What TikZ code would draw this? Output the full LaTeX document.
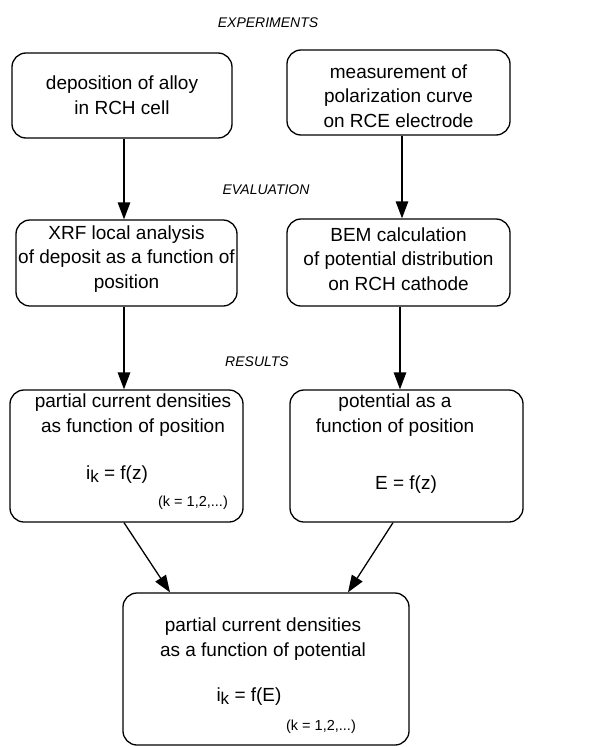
\documentclass[tikz,border=0pt]{standalone}
\usepackage{fontspec}
\setmainfont{Liberation Sans}
\usetikzlibrary{arrows.meta}
\tikzset{
 box/.style={draw, line width=1.3pt, rounded corners=14pt, inner sep=0pt, align=center, font=\fontsize{19}{25}\selectfont},
 lbl/.style={font=\fontsize{14}{16}\selectfont\itshape, inner sep=0pt},
 txt/.style={align=center, font=\fontsize{19}{24.5}\selectfont, inner sep=0pt},
 small/.style={font=\fontsize{14.5}{16}\selectfont, inner sep=0pt},
 arr/.style={line width=1.3pt, -{Triangle[length=17pt,width=12.5pt]}},
}
\newcommand{\ik}{i\raisebox{-3pt}{\fontsize{17}{17}\selectfont k}}
\begin{document}
\begin{tikzpicture}[x=1pt,y=-1pt]
\useasboundingbox (0,0) rectangle (597,747);
% labels
\node[lbl] (l1) at (268,23) {EXPERIMENTS};
\node[lbl] (l2) at (266,190) {EVALUATION};
\node[lbl] (l3) at (257,362) {RESULTS};
% boxes
\node[box, minimum width=220pt, minimum height=85pt] (A) at (122,95.5) {deposition of alloy\\in RCH cell};
\node[box, minimum width=223pt, minimum height=85pt] (B) at (398.5,92.5) {};
\node[txt] (Bt) at (398.5,96) {measurement of\\polarization curve\\on RCE electrode};
\node[box, minimum width=221pt, minimum height=86pt] (C) at (126.5,263) {};
\node[txt] (Ct) at (126.5,259) {XRF local analysis\\of deposit as a function of\\position};
\node[box, minimum width=223pt, minimum height=87pt] (D) at (398.5,262.5) {};
\node[txt] (Dt) at (398.5,259) {BEM calculation\\of potential distribution\\on RCH cathode};
\node[box, minimum width=233pt, minimum height=132pt] (E) at (126.5,456) {};
\node[txt] (Et) at (133,415) {partial current densities\\as function of position};
\node[txt] (Eq) at (117,475) {\ik\ = f(z)};
\node[small] (Ek) at (193,503) {(k = 1,2,...)};
\node[box, minimum width=233pt, minimum height=132pt] (F) at (406.5,456) {};
\node[txt] (Ft) at (395,415) {potential as a\\function of position};
\node[txt] (Fq) at (406,485) {E = f(z)};
\node[box, minimum width=286pt, minimum height=152pt] (G) at (266,669) {};
\node[txt] (Gt) at (263,639) {partial current densities\\as a function of potential};
\node[txt] (Gq) at (249,697) {\ik\ = f(E)};
\node[small] (Gk) at (321,727) {(k = 1,2,...)};
% arrows
\coordinate (x1) at (124,0);
\coordinate (x2) at (402,0);
\coordinate (x3) at (400,0);
\coordinate (x4) at (170,0);
\coordinate (x5) at (393,0);
\coordinate (x6) at (348,0);
\draw[arr] (A.south -| x1) -- (C.north -| x1);
\draw[arr] (B.south -| x2) -- (D.north -| x2);
\draw[arr] (C.south -| x1) -- (E.north -| x1);
\draw[arr] (D.south -| x3) -- (F.north -| x3);
\draw[arr] (E.south -| x1) -- (G.north -| x4);
\draw[arr] (F.south -| x5) -- (G.north -| x6);
\end{tikzpicture}
\end{document}
